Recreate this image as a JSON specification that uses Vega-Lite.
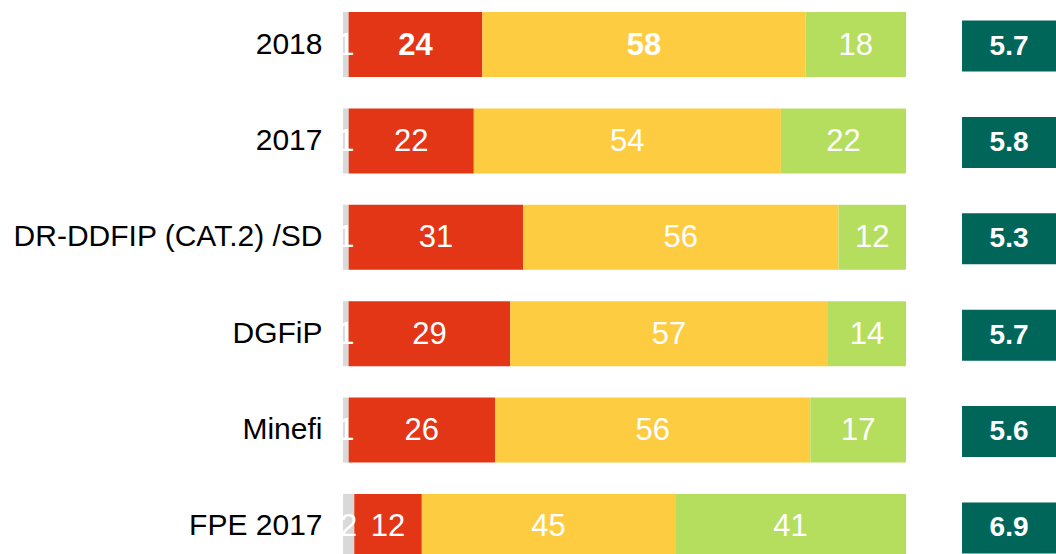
{
  "$schema": "https://vega.github.io/schema/vega-lite/v6.json",
  "width": 713,
  "height": 571,
  "autosize": {"type": "none"},
  "padding": {"left": 343, "top": 0, "right": 0, "bottom": 0},
  "background": "white",
  "config": {"view": {"stroke": null}, "font": "Liberation Sans"},
  "datasets": {
    "rep": [
      {"groupe": "2018", "cat": "NSP", "rang": 1, "val": 1},
      {"groupe": "2018", "cat": "Défavorable", "rang": 2, "val": 24},
      {"groupe": "2018", "cat": "Neutre", "rang": 3, "val": 58},
      {"groupe": "2018", "cat": "Favorable", "rang": 4, "val": 18},
      {"groupe": "2017", "cat": "NSP", "rang": 1, "val": 1},
      {"groupe": "2017", "cat": "Défavorable", "rang": 2, "val": 22},
      {"groupe": "2017", "cat": "Neutre", "rang": 3, "val": 54},
      {"groupe": "2017", "cat": "Favorable", "rang": 4, "val": 22},
      {"groupe": "DR-DDFIP (CAT.2) /SD", "cat": "NSP", "rang": 1, "val": 1},
      {"groupe": "DR-DDFIP (CAT.2) /SD", "cat": "Défavorable", "rang": 2, "val": 31},
      {"groupe": "DR-DDFIP (CAT.2) /SD", "cat": "Neutre", "rang": 3, "val": 56},
      {"groupe": "DR-DDFIP (CAT.2) /SD", "cat": "Favorable", "rang": 4, "val": 12},
      {"groupe": "DGFiP", "cat": "NSP", "rang": 1, "val": 1},
      {"groupe": "DGFiP", "cat": "Défavorable", "rang": 2, "val": 29},
      {"groupe": "DGFiP", "cat": "Neutre", "rang": 3, "val": 57},
      {"groupe": "DGFiP", "cat": "Favorable", "rang": 4, "val": 14},
      {"groupe": "Minefi", "cat": "NSP", "rang": 1, "val": 1},
      {"groupe": "Minefi", "cat": "Défavorable", "rang": 2, "val": 26},
      {"groupe": "Minefi", "cat": "Neutre", "rang": 3, "val": 56},
      {"groupe": "Minefi", "cat": "Favorable", "rang": 4, "val": 17},
      {"groupe": "FPE 2017", "cat": "NSP", "rang": 1, "val": 2},
      {"groupe": "FPE 2017", "cat": "Défavorable", "rang": 2, "val": 12},
      {"groupe": "FPE 2017", "cat": "Neutre", "rang": 3, "val": 45},
      {"groupe": "FPE 2017", "cat": "Favorable", "rang": 4, "val": 41}
    ],
    "scores": [
      {"groupe": "2018", "score": 5.7},
      {"groupe": "2017", "score": 5.8},
      {"groupe": "DR-DDFIP (CAT.2) /SD", "score": 5.3},
      {"groupe": "DGFiP", "score": 5.7},
      {"groupe": "Minefi", "score": 5.6},
      {"groupe": "FPE 2017", "score": 6.9}
    ]
  },
  "encoding": {
    "y": {
      "field": "groupe",
      "type": "nominal",
      "sort": ["2018", "2017", "DR-DDFIP (CAT.2) /SD", "DGFiP", "Minefi", "FPE 2017"],
      "scale": {"paddingInner": 0.325, "paddingOuter": 0.125},
      "axis": {
        "title": null,
        "ticks": false,
        "domain": false,
        "labelFontSize": 30,
        "labelColor": "#000000",
        "labelFont": "Liberation Sans",
        "labelPadding": 21,
        "labelLimit": 400
      }
    }
  },
  "layer": [
    {
      "data": {"name": "rep"},
      "transform": [
        {"stack": "val", "groupby": ["groupe"], "sort": [{"field": "rang", "order": "ascending"}], "offset": "normalize", "as": ["x0", "x1"]}
      ],
      "layer": [
        {
          "mark": {"type": "bar"},
          "encoding": {
            "x": {"field": "x0", "type": "quantitative", "scale": {"domain": [0, 1.2664], "nice": false, "zero": false}, "axis": null},
            "x2": {"field": "x1"},
            "color": {
              "field": "cat",
              "type": "nominal",
              "scale": {"domain": ["NSP", "Défavorable", "Neutre", "Favorable"], "range": ["#d9d9d9", "#e33616", "#fecc41", "#b6de5e"]},
              "legend": null
            }
          }
        },
        {
          "transform": [
            {"filter": "!(datum.groupe === '2018' && (datum.cat === 'Défavorable' || datum.cat === 'Neutre'))"},
            {"fold": ["x0", "x1"], "as": ["bord", "pos"]}
          ],
          "mark": {"type": "text", "color": "white", "fontSize": 31, "baseline": "middle", "align": "center", "dy": 1},
          "encoding": {
            "x": {"aggregate": "mean", "field": "pos", "type": "quantitative"},
            "detail": {"field": "cat", "type": "nominal"},
            "text": {"field": "val", "type": "quantitative"}
          }
        },
        {
          "transform": [
            {"filter": "datum.groupe === '2018' && (datum.cat === 'Défavorable' || datum.cat === 'Neutre')"},
            {"fold": ["x0", "x1"], "as": ["bord", "pos"]}
          ],
          "mark": {"type": "text", "color": "white", "fontSize": 31, "fontWeight": "bold", "baseline": "middle", "align": "center", "dy": 1},
          "encoding": {
            "x": {"aggregate": "mean", "field": "pos", "type": "quantitative"},
            "detail": {"field": "cat", "type": "nominal"},
            "text": {"field": "val", "type": "quantitative"}
          }
        }
      ]
    },
    {
      "data": {"name": "scores"},
      "layer": [
        {
          "mark": {"type": "bar", "color": "#00665a", "height": 51, "yOffset": 1.5},
          "encoding": {
            "x": {"datum": 1.0995, "type": "quantitative"},
            "x2": {"datum": 1.2664}
          }
        },
        {
          "mark": {"type": "text", "color": "white", "fontSize": 28, "fontWeight": "bold", "baseline": "middle", "align": "center", "dy": 2},
          "encoding": {
            "x": {"datum": 1.183, "type": "quantitative"},
            "text": {"field": "score", "type": "quantitative", "format": ".1f"}
          }
        }
      ]
    }
  ]
}
